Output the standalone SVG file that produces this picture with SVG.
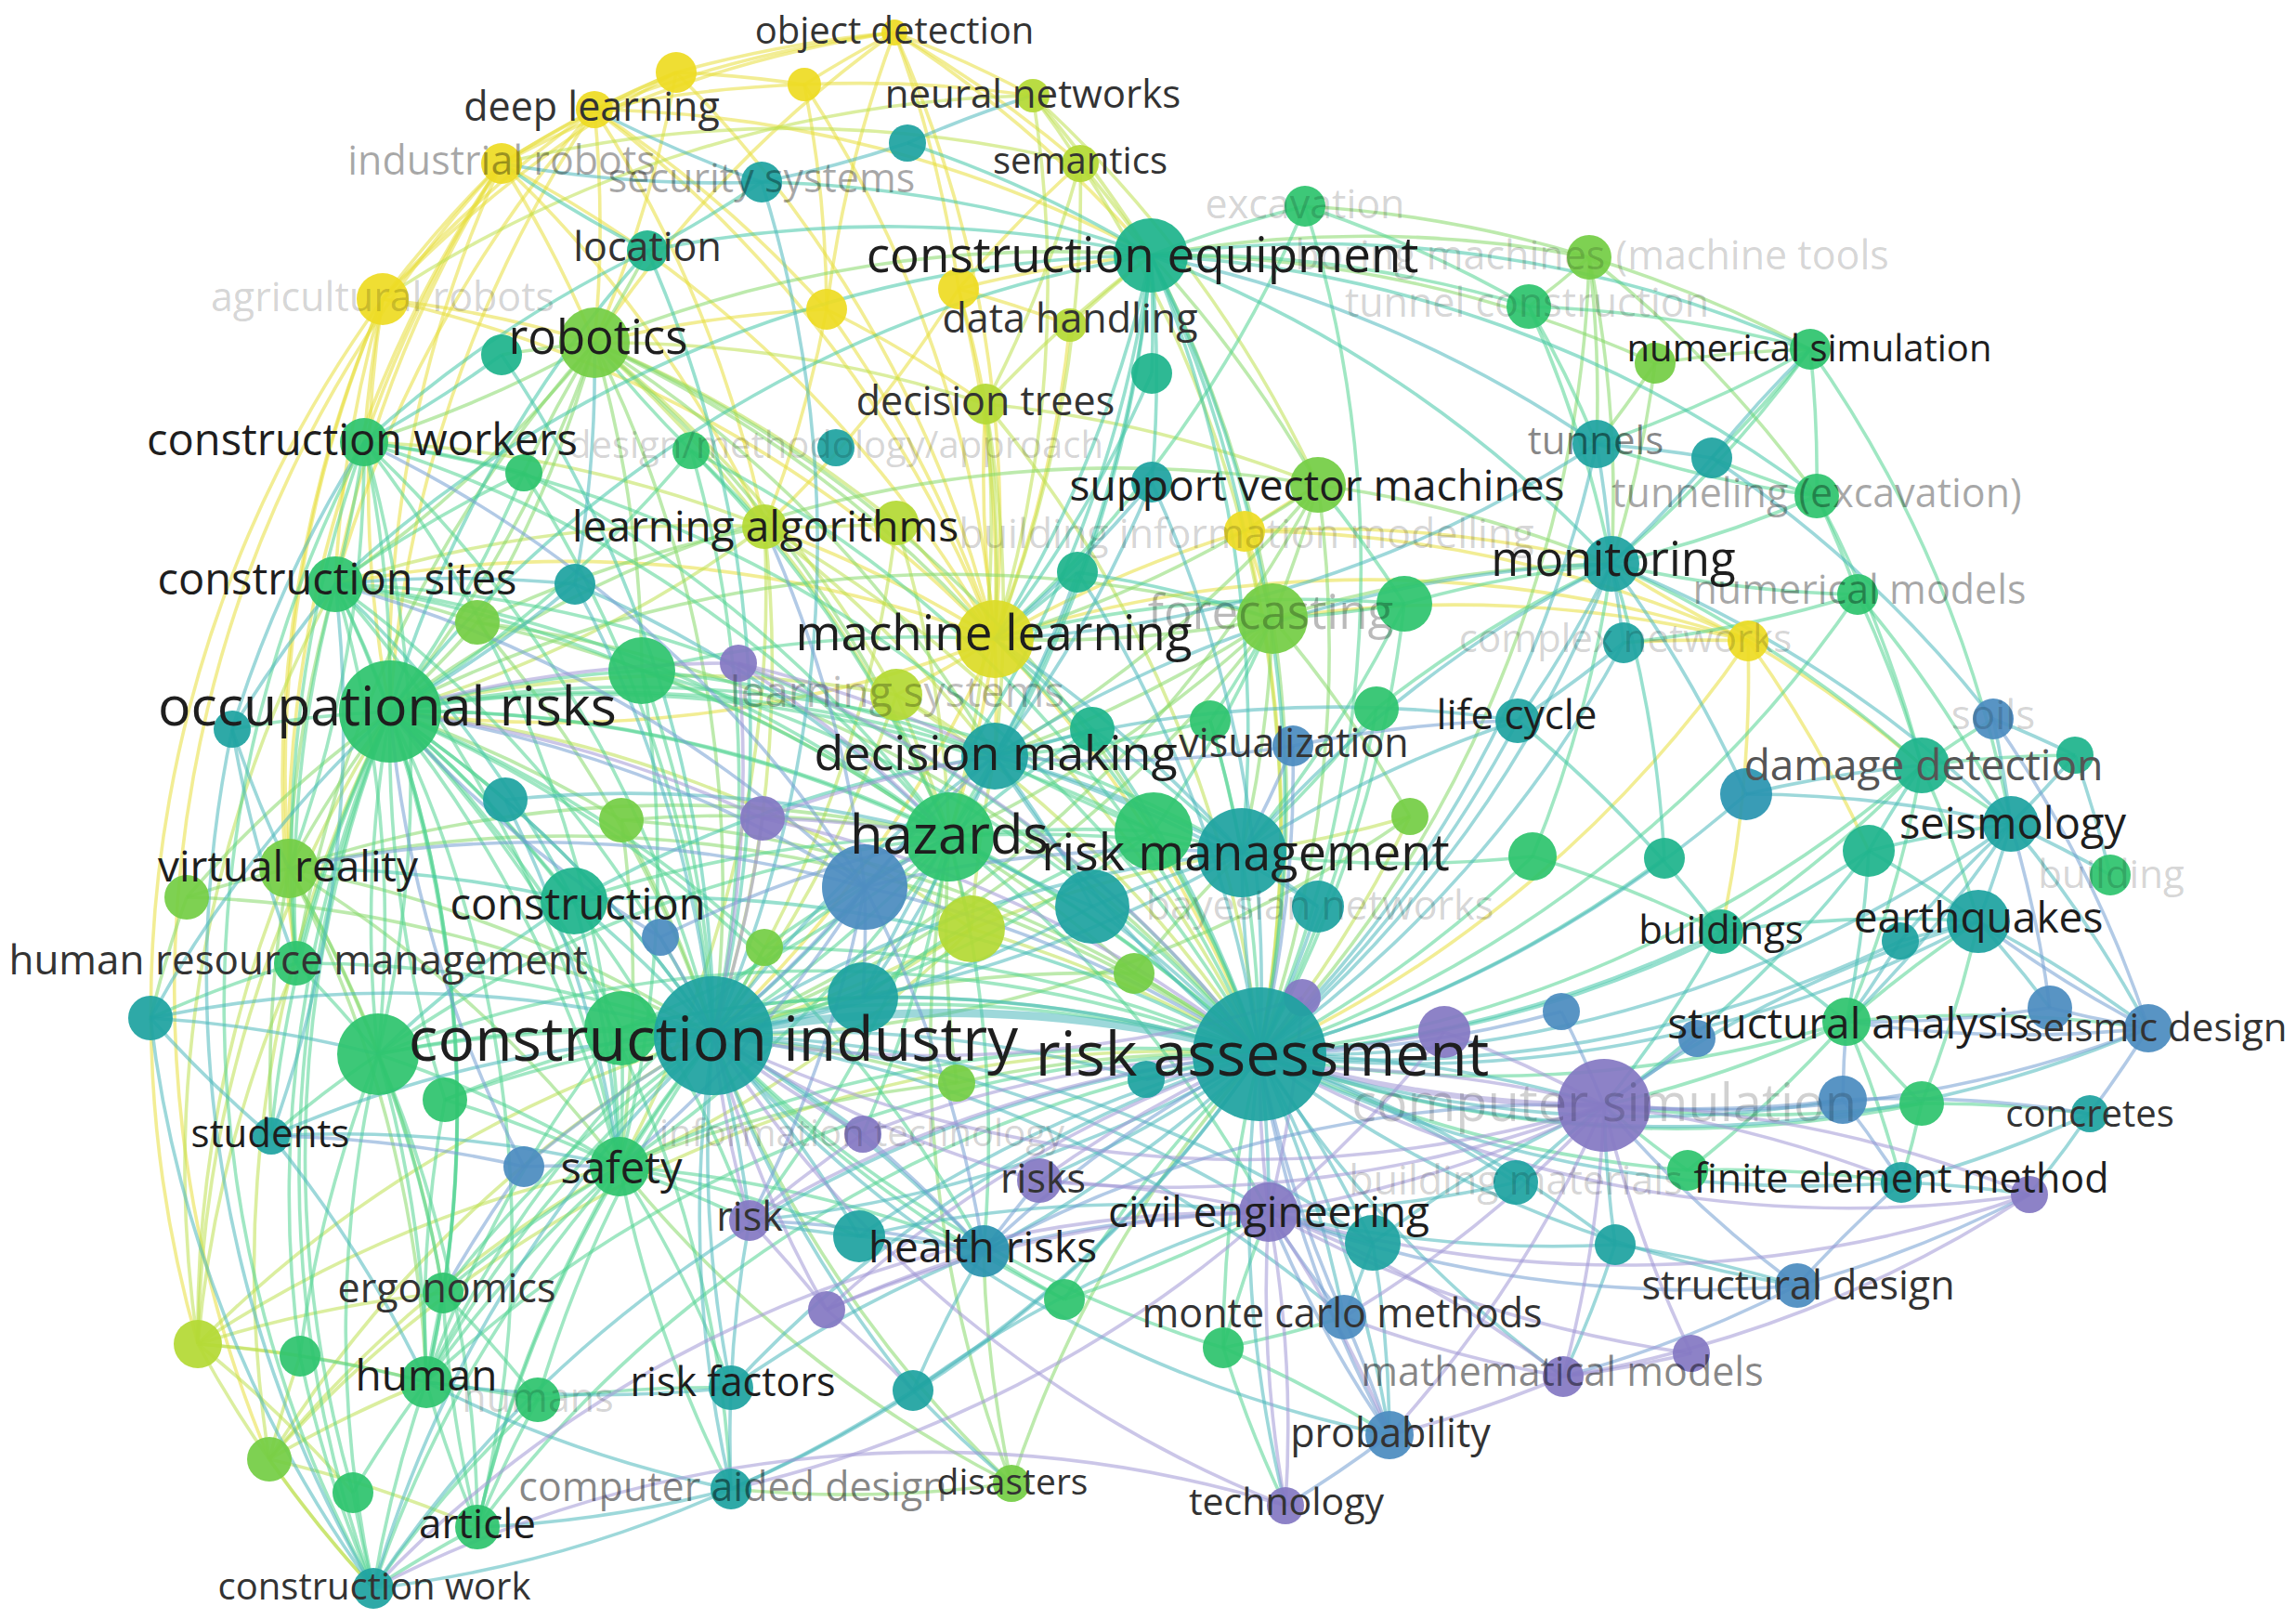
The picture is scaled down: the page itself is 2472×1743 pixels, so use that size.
<svg xmlns="http://www.w3.org/2000/svg" width="2472" height="1743" viewBox="0 0 2472 1743">
<style>
.y{fill:#eedc24}.yg{fill:#b4d935}.lg{fill:#74cd45}.g{fill:#2ec46e}.tg{fill:#1eb48c}.t{fill:#1ea3a0}.b{fill:#4b8cc0}.p{fill:#8479c3}
circle{fill-opacity:.93}
#connectors{fill:none;stroke-width:3.6;stroke-opacity:.55}
.ey{stroke:#e8de3c}.eyg{stroke:#bde050}.elg{stroke:#86d96a}.eg{stroke:#52d392}.etg{stroke:#43c6a8}.et{stroke:#4db8bb}.eb{stroke:#739fd2}.ep{stroke:#a097d6}
text{font-family:"Open Sans","Liberation Sans",sans-serif;text-anchor:middle}
.d1{fill:#1e1e1e}.d2{fill:#333}.d3{fill:#555}.f1{fill:#000;fill-opacity:.47}.f2{fill:#000;fill-opacity:.34}.f3{fill:#000;fill-opacity:.27}.f4{fill:#000;fill-opacity:.18}
</style>
<rect width="2472" height="1743" fill="#fff"/>
<g id="connectors">
<g class="ey">
<path d="M728 78A1300 1300 0 0 1 963 35"/><path d="M866 91A1300 1300 0 0 1 963 35"/><path d="M963 35A1300 1300 0 0 1 1112 103"/><path d="M640 118A1300 1300 0 0 1 963 35"/><path d="M963 35A1300 1300 0 0 1 1071 688"/><path d="M963 35A1300 1300 0 0 1 1163 176"/><path d="M890 333A1300 1300 0 0 1 963 35"/><path d="M540 176A1300 1300 0 0 1 963 35"/><path d="M640 118A1300 1300 0 0 1 728 78"/><path d="M540 176A1300 1300 0 0 1 728 78"/><path d="M728 78A1300 1300 0 0 1 866 91"/><path d="M412 322A1300 1300 0 0 1 728 78"/><path d="M728 78A1300 1300 0 0 1 1071 688"/><path d="M728 78A1300 1300 0 0 1 640 369"/><path d="M866 91A1300 1300 0 0 1 1112 103"/><path d="M866 91A1300 1300 0 0 1 1071 688"/><path d="M866 91A1300 1300 0 0 1 890 333"/><path d="M640 118A1300 1300 0 0 1 866 91"/><path d="M540 176A1300 1300 0 0 1 640 118"/><path d="M412 322A1300 1300 0 0 1 640 118"/><path d="M640 118A1300 1300 0 0 1 1071 688"/><path d="M640 118A1300 1300 0 0 1 640 369"/><path d="M640 118A1300 1300 0 0 1 823 567"/><path d="M640 118A1300 1300 0 0 1 890 333"/><path d="M640 118A1300 1300 0 0 1 1239 275"/><path d="M412 322A1300 1300 0 0 1 540 176"/><path d="M540 176A1300 1300 0 0 1 640 369"/><path d="M392 476A1300 1300 0 0 1 540 176"/><path d="M361 629A1300 1300 0 0 1 540 176"/><path d="M540 176A1300 1300 0 0 1 1071 688"/><path d="M540 176A1300 1300 0 0 1 823 567"/><path d="M392 476A1300 1300 0 0 1 412 322"/><path d="M412 322A1300 1300 0 0 1 640 369"/><path d="M420 766A1300 1300 0 0 1 412 322"/><path d="M361 629A1300 1300 0 0 1 412 322"/><path d="M412 322A1300 1300 0 0 1 1071 688"/><path d="M311 935A1300 1300 0 0 1 412 322"/><path d="M890 333A1300 1300 0 0 1 1071 688"/><path d="M890 333A1300 1300 0 0 1 823 567"/><path d="M1032 311A1300 1300 0 0 1 1071 688"/><path d="M1032 311A1300 1300 0 0 1 1239 275"/><path d="M1032 311A1300 1300 0 0 1 1152 350"/><path d="M1032 311A1300 1300 0 0 1 823 567"/><path d="M963 35A1300 1300 0 0 1 1032 311"/><path d="M823 567A1300 1300 0 0 1 1071 688"/><path d="M1071 688A1300 1300 0 0 1 1061 435"/><path d="M1071 688A1300 1300 0 0 1 1340 572"/><path d="M1071 688A1300 1300 0 0 1 1882 690"/><path d="M965 563A1300 1300 0 0 1 1071 688"/><path d="M1071 688A1300 1300 0 0 1 965 748"/><path d="M1152 350A1300 1300 0 0 1 1071 688"/><path d="M361 629A1300 1300 0 0 1 1071 688"/><path d="M1071 688A1300 1300 0 0 1 1022 901"/><path d="M1071 688A1300 1300 0 0 1 768 1115"/><path d="M1071 688A1300 1300 0 0 1 1356 1135"/><path d="M1340 572A1300 1300 0 0 1 1370 666"/><path d="M1340 572A1300 1300 0 0 1 1882 690"/><path d="M1340 572A1300 1300 0 0 1 1735 607"/><path d="M1882 690A1300 1300 0 0 1 1735 607"/><path d="M1882 690A1300 1300 0 0 1 2069 824"/><path d="M1748 692A1300 1300 0 0 1 1882 690"/><path d="M1370 666A1300 1300 0 0 1 1882 690"/><path d="M1882 690A1300 1300 0 0 1 1853 1003"/><path d="M1071 688A1300 1300 0 0 1 420 766"/><path d="M1071 688A1300 1300 0 0 1 1071 814"/>
<path d="M640 369A1300 1300 0 0 1 890 333"/><path d="M890 333A1300 1300 0 0 1 1061 435"/><path d="M1032 311A1300 1300 0 0 1 1061 435"/><path d="M1032 311A1300 1300 0 0 1 1163 176"/><path d="M361 629A1300 1300 0 0 1 640 118"/><path d="M420 766A1300 1300 0 0 1 640 118"/><path d="M420 766A1300 1300 0 0 1 540 176"/><path d="M311 935A1300 1300 0 0 1 540 176"/><path d="M319 1037A1300 1300 0 0 1 412 322"/><path d="M213 1447A1300 1300 0 0 1 412 322"/><path d="M290 1571A1300 1300 0 0 1 540 176"/><path d="M1882 690A1300 1300 0 0 1 1356 1135"/><path d="M1882 690A1300 1300 0 0 1 2012 916"/><path d="M1340 572A1300 1300 0 0 1 1356 1135"/><path d="M1340 572A1300 1300 0 0 1 1419 522"/><path d="M963 35A1300 1300 0 0 1 1239 275"/><path d="M640 369A1300 1300 0 0 1 963 35"/>
</g>
<g class="eyg">
<path d="M1112 103A1300 1300 0 0 1 1163 176"/><path d="M1112 103A1300 1300 0 0 1 1239 275"/><path d="M1112 103A1300 1300 0 0 1 1071 688"/><path d="M1163 176A1300 1300 0 0 1 1239 275"/><path d="M1163 176A1300 1300 0 0 1 1061 435"/><path d="M1163 176A1300 1300 0 0 1 1071 688"/><path d="M1061 435A1300 1300 0 0 1 1071 688"/><path d="M1061 435A1300 1300 0 0 1 1239 275"/><path d="M1061 435A1300 1300 0 0 1 1022 901"/><path d="M640 369A1300 1300 0 0 1 1061 435"/><path d="M640 369A1300 1300 0 0 1 823 567"/><path d="M823 567A1300 1300 0 0 1 420 766"/><path d="M823 567A1300 1300 0 0 1 1022 901"/><path d="M823 567A1300 1300 0 0 1 768 1115"/><path d="M361 629A1300 1300 0 0 1 823 567"/><path d="M965 563A1300 1300 0 0 1 823 567"/><path d="M965 563A1300 1300 0 0 1 768 1115"/><path d="M965 748A1300 1300 0 0 1 1022 901"/><path d="M420 766A1300 1300 0 0 1 965 748"/><path d="M965 748A1300 1300 0 0 1 768 1115"/><path d="M965 748A1300 1300 0 0 1 1356 1135"/><path d="M1046 1000A1300 1300 0 0 1 1022 901"/><path d="M1046 1000A1300 1300 0 0 1 768 1115"/><path d="M1046 1000A1300 1300 0 0 1 1356 1135"/><path d="M1046 1000A1300 1300 0 0 1 1071 814"/><path d="M420 766A1300 1300 0 0 1 1046 1000"/><path d="M1046 1000A1300 1300 0 0 1 667 1256"/><path d="M213 1447A1300 1300 0 0 1 459 1488"/><path d="M402 1710A1300 1300 0 0 1 213 1447"/><path d="M213 1447A1300 1300 0 0 1 420 766"/><path d="M213 1447A1300 1300 0 0 1 380 1607"/><path d="M213 1447A1300 1300 0 0 1 311 935"/><path d="M213 1447A1300 1300 0 0 1 477 1392"/><path d="M213 1447A1300 1300 0 0 1 319 1037"/><path d="M213 1447A1300 1300 0 0 1 361 629"/><path d="M290 1571A1300 1300 0 0 1 459 1488"/><path d="M402 1710A1300 1300 0 0 1 290 1571"/><path d="M290 1571A1300 1300 0 0 1 323 1460"/><path d="M290 1571A1300 1300 0 0 1 420 766"/><path d="M290 1571A1300 1300 0 0 1 768 1115"/><path d="M290 1571A1300 1300 0 0 1 514 1644"/><path d="M1518 879A1300 1300 0 0 1 1337 918"/><path d="M1518 879A1300 1300 0 0 1 1356 1135"/><path d="M1152 350A1300 1300 0 0 1 1239 275"/><path d="M412 322A1300 1300 0 0 1 1112 103"/><path d="M540 176A1300 1300 0 0 1 1163 176"/>
<path d="M823 567A1300 1300 0 0 1 1356 1135"/><path d="M823 567A1300 1300 0 0 1 1071 814"/><path d="M392 476A1300 1300 0 0 1 823 567"/><path d="M823 567A1300 1300 0 0 1 667 1256"/><path d="M965 748A1300 1300 0 0 1 1071 814"/><path d="M640 369A1300 1300 0 0 1 965 748"/><path d="M965 563A1300 1300 0 0 1 1022 901"/><path d="M640 369A1300 1300 0 0 1 965 563"/><path d="M1046 1000A1300 1300 0 0 1 1337 918"/><path d="M929 1074A1300 1300 0 0 1 1046 1000"/><path d="M1061 435A1300 1300 0 0 1 1356 1135"/><path d="M1061 435A1300 1300 0 0 1 1071 814"/><path d="M1061 435A1300 1300 0 0 1 1419 522"/><path d="M213 1447A1300 1300 0 0 1 768 1115"/><path d="M213 1447A1300 1300 0 0 1 667 1256"/><path d="M290 1571A1300 1300 0 0 1 667 1256"/><path d="M290 1571A1300 1300 0 0 1 1356 1135"/><path d="M213 1447A1300 1300 0 0 1 323 1460"/><path d="M1163 176A1300 1300 0 0 1 1356 1135"/><path d="M1112 103A1300 1300 0 0 1 1419 522"/>
</g>
<g class="elg">
<path d="M640 369A1300 1300 0 0 1 392 476"/><path d="M640 369A1300 1300 0 0 1 361 629"/><path d="M640 369A1300 1300 0 0 1 420 766"/><path d="M640 369A1300 1300 0 0 1 1239 275"/><path d="M640 369A1300 1300 0 0 1 768 1115"/><path d="M640 369A1300 1300 0 0 1 1071 688"/><path d="M697 270A1300 1300 0 0 1 640 369"/><path d="M540 382A1300 1300 0 0 1 640 369"/><path d="M640 369A1300 1300 0 0 1 1022 901"/><path d="M640 369A1300 1300 0 0 1 1071 814"/><path d="M640 369A1300 1300 0 0 1 1356 1135"/><path d="M564 509A1300 1300 0 0 1 640 369"/><path d="M640 369A1300 1300 0 0 1 514 670"/><path d="M311 935A1300 1300 0 0 1 420 766"/><path d="M311 935A1300 1300 0 0 1 768 1115"/><path d="M319 1037A1300 1300 0 0 1 311 935"/><path d="M311 935A1300 1300 0 0 1 361 629"/><path d="M311 935A1300 1300 0 0 1 667 1256"/><path d="M311 935A1300 1300 0 0 1 407 1135"/><path d="M201 966A1300 1300 0 0 1 311 935"/><path d="M311 935A1300 1300 0 0 1 1022 901"/><path d="M292 1223A1300 1300 0 0 1 311 935"/><path d="M514 670A1300 1300 0 0 1 420 766"/><path d="M361 629A1300 1300 0 0 1 514 670"/><path d="M514 670A1300 1300 0 0 1 768 1115"/><path d="M514 670A1300 1300 0 0 1 1022 901"/><path d="M514 670A1300 1300 0 0 1 1356 1135"/><path d="M669 883A1300 1300 0 0 1 768 1115"/><path d="M420 766A1300 1300 0 0 1 669 883"/><path d="M669 883A1300 1300 0 0 1 1022 901"/><path d="M669 883A1300 1300 0 0 1 1356 1135"/><path d="M1370 666A1300 1300 0 0 1 1071 688"/><path d="M1370 666A1300 1300 0 0 1 1337 918"/><path d="M1370 666A1300 1300 0 0 1 1356 1135"/><path d="M1239 275A1300 1300 0 0 1 1370 666"/><path d="M1370 666A1300 1300 0 0 1 1071 814"/><path d="M1370 666A1300 1300 0 0 1 1735 607"/><path d="M1419 522A1300 1300 0 0 1 1370 666"/><path d="M1370 666A1300 1300 0 0 1 1022 901"/><path d="M1370 666A1300 1300 0 0 1 768 1115"/><path d="M1239 275A1300 1300 0 0 1 1419 522"/><path d="M1419 522A1300 1300 0 0 1 1071 688"/><path d="M1419 522A1300 1300 0 0 1 1356 1135"/><path d="M1419 522A1300 1300 0 0 1 1071 814"/><path d="M1419 522A1300 1300 0 0 1 1735 607"/><path d="M1419 522A1300 1300 0 0 1 768 1115"/><path d="M1239 275A1300 1300 0 0 1 1711 277"/><path d="M1711 277A1300 1300 0 0 1 1646 330"/><path d="M1711 277A1300 1300 0 0 1 1719 478"/><path d="M1405 222A1300 1300 0 0 1 1711 277"/><path d="M1711 277A1300 1300 0 0 1 1949 376"/><path d="M1711 277A1300 1300 0 0 1 1956 534"/><path d="M1782 391A1300 1300 0 0 1 1949 376"/><path d="M1782 391A1300 1300 0 0 1 1719 478"/><path d="M1239 275A1300 1300 0 0 1 1782 391"/><path d="M1782 391A1300 1300 0 0 1 1735 607"/><path d="M1221 1048A1300 1300 0 0 1 1356 1135"/><path d="M768 1115A1300 1300 0 0 1 1221 1048"/><path d="M768 1115A1300 1300 0 0 1 1030 1166"/><path d="M1030 1166A1300 1300 0 0 1 1356 1135"/><path d="M1089 1597A1300 1300 0 0 1 768 1115"/><path d="M1089 1597A1300 1300 0 0 1 1356 1135"/><path d="M1089 1597A1300 1300 0 0 1 1059 1347"/><path d="M1089 1597A1300 1300 0 0 1 787 1603"/><path d="M201 966A1300 1300 0 0 1 420 766"/><path d="M201 966A1300 1300 0 0 1 768 1115"/><path d="M162 1096A1300 1300 0 0 1 201 966"/>
<path d="M319 1037A1300 1300 0 0 1 640 369"/><path d="M640 369A1300 1300 0 0 1 691 722"/><path d="M311 935A1300 1300 0 0 1 459 1488"/><path d="M311 935A1300 1300 0 0 1 477 1392"/><path d="M311 935A1300 1300 0 0 1 1356 1135"/><path d="M420 766A1300 1300 0 0 1 1370 666"/><path d="M669 883A1300 1300 0 0 1 667 1256"/><path d="M514 670A1300 1300 0 0 1 823 567"/><path d="M1022 901A1300 1300 0 0 1 1221 1048"/><path d="M1221 1048A1300 1300 0 0 1 1337 918"/><path d="M1030 1166A1300 1300 0 0 1 1022 901"/><path d="M667 1256A1300 1300 0 0 1 1030 1166"/><path d="M1089 1597A1300 1300 0 0 1 667 1256"/><path d="M1089 1597A1300 1300 0 0 1 1022 901"/><path d="M420 766A1300 1300 0 0 1 1419 522"/><path d="M1370 666A1300 1300 0 0 1 1518 879"/><path d="M1518 879A1300 1300 0 0 1 768 1115"/><path d="M1711 277A1300 1300 0 0 1 1735 607"/><path d="M1711 277A1300 1300 0 0 1 1356 1135"/>
</g>
<g class="eg">
<path d="M420 766A1300 1300 0 0 1 768 1115"/><path d="M420 766A1300 1300 0 0 1 1356 1135"/><path d="M420 766A1300 1300 0 0 1 1022 901"/><path d="M361 629A1300 1300 0 0 1 420 766"/><path d="M392 476A1300 1300 0 0 1 420 766"/><path d="M319 1037A1300 1300 0 0 1 420 766"/><path d="M420 766A1300 1300 0 0 1 667 1256"/><path d="M420 766A1300 1300 0 0 1 618 970"/><path d="M407 1135A1300 1300 0 0 1 420 766"/><path d="M420 766A1300 1300 0 0 1 1071 814"/><path d="M420 766A1300 1300 0 0 1 1337 918"/><path d="M420 766A1300 1300 0 0 1 691 722"/><path d="M420 766A1300 1300 0 0 1 477 1392"/><path d="M420 766A1300 1300 0 0 1 459 1488"/><path d="M292 1223A1300 1300 0 0 1 420 766"/><path d="M250 785A1300 1300 0 0 1 420 766"/><path d="M420 766A1300 1300 0 0 1 669 1107"/><path d="M420 766A1300 1300 0 0 1 544 861"/><path d="M420 766A1300 1300 0 0 1 807 1314"/><path d="M420 766A1300 1300 0 0 1 1059 1347"/><path d="M420 766A1300 1300 0 0 1 787 1603"/><path d="M420 766A1300 1300 0 0 1 514 1644"/><path d="M361 629A1300 1300 0 0 1 768 1115"/><path d="M392 476A1300 1300 0 0 1 361 629"/><path d="M361 629A1300 1300 0 0 1 1022 901"/><path d="M361 629A1300 1300 0 0 1 1356 1135"/><path d="M361 629A1300 1300 0 0 1 407 1135"/><path d="M361 629A1300 1300 0 0 1 667 1256"/><path d="M361 629A1300 1300 0 0 1 459 1488"/><path d="M392 476A1300 1300 0 0 1 768 1115"/><path d="M392 476A1300 1300 0 0 1 1022 901"/><path d="M392 476A1300 1300 0 0 1 667 1256"/><path d="M392 476A1300 1300 0 0 1 407 1135"/><path d="M392 476A1300 1300 0 0 1 1356 1135"/><path d="M402 1710A1300 1300 0 0 1 392 476"/><path d="M1022 901A1300 1300 0 0 1 768 1115"/><path d="M1022 901A1300 1300 0 0 1 1356 1135"/><path d="M1022 901A1300 1300 0 0 1 1337 918"/><path d="M1022 901A1300 1300 0 0 1 1071 814"/><path d="M1022 901A1300 1300 0 0 1 667 1256"/><path d="M691 722A1300 1300 0 0 1 1022 901"/><path d="M1022 901A1300 1300 0 0 1 669 1107"/><path d="M1022 901A1300 1300 0 0 1 1242 895"/><path d="M618 970A1300 1300 0 0 1 1022 901"/><path d="M1022 901A1300 1300 0 0 1 807 1314"/><path d="M1022 901A1300 1300 0 0 1 1059 1347"/><path d="M1022 901A1300 1300 0 0 1 1366 1305"/><path d="M1022 901A1300 1300 0 0 1 929 1221"/><path d="M1242 895A1300 1300 0 0 1 1356 1135"/><path d="M1242 895A1300 1300 0 0 1 768 1115"/><path d="M1242 895A1300 1300 0 0 1 1071 814"/><path d="M1071 688A1300 1300 0 0 1 1242 895"/><path d="M1242 895A1300 1300 0 0 1 1337 918"/><path d="M1370 666A1300 1300 0 0 1 1242 895"/><path d="M407 1135A1300 1300 0 0 1 768 1115"/><path d="M407 1135A1300 1300 0 0 1 459 1488"/><path d="M407 1135A1300 1300 0 0 1 667 1256"/><path d="M407 1135A1300 1300 0 0 1 1356 1135"/><path d="M407 1135A1300 1300 0 0 1 477 1392"/><path d="M407 1135A1300 1300 0 0 1 514 1644"/><path d="M292 1223A1300 1300 0 0 1 407 1135"/><path d="M402 1710A1300 1300 0 0 1 407 1135"/><path d="M319 1037A1300 1300 0 0 1 407 1135"/><path d="M669 1107A1300 1300 0 0 1 768 1115"/><path d="M669 1107A1300 1300 0 0 1 1356 1135"/><path d="M669 1107A1300 1300 0 0 1 667 1256"/><path d="M667 1256A1300 1300 0 0 1 768 1115"/><path d="M667 1256A1300 1300 0 0 1 1356 1135"/><path d="M459 1488A1300 1300 0 0 1 667 1256"/><path d="M477 1392A1300 1300 0 0 1 667 1256"/><path d="M667 1256A1300 1300 0 0 1 787 1494"/><path d="M667 1256A1300 1300 0 0 1 1059 1347"/><path d="M459 1488A1300 1300 0 0 1 768 1115"/><path d="M459 1488A1300 1300 0 0 1 477 1392"/><path d="M514 1644A1300 1300 0 0 1 459 1488"/><path d="M402 1710A1300 1300 0 0 1 459 1488"/><path d="M459 1488A1300 1300 0 0 1 579 1507"/><path d="M459 1488A1300 1300 0 0 1 1356 1135"/><path d="M579 1507A1300 1300 0 0 1 768 1115"/><path d="M514 1644A1300 1300 0 0 1 579 1507"/><path d="M579 1507A1300 1300 0 0 1 787 1494"/><path d="M477 1392A1300 1300 0 0 1 768 1115"/><path d="M514 1644A1300 1300 0 0 1 477 1392"/><path d="M402 1710A1300 1300 0 0 1 514 1644"/><path d="M514 1644A1300 1300 0 0 1 768 1115"/><path d="M514 1644A1300 1300 0 0 1 1356 1135"/><path d="M402 1710A1300 1300 0 0 1 380 1607"/><path d="M380 1607A1300 1300 0 0 1 459 1488"/><path d="M323 1460A1300 1300 0 0 1 459 1488"/><path d="M402 1710A1300 1300 0 0 1 323 1460"/><path d="M319 1037A1300 1300 0 0 1 768 1115"/><path d="M162 1096A1300 1300 0 0 1 319 1037"/><path d="M691 722A1300 1300 0 0 1 768 1115"/><path d="M691 722A1300 1300 0 0 1 1356 1135"/><path d="M691 722A1300 1300 0 0 1 1071 814"/><path d="M1512 650A1300 1300 0 0 1 1370 666"/><path d="M1512 650A1300 1300 0 0 1 1337 918"/><path d="M1512 650A1300 1300 0 0 1 1735 607"/><path d="M1512 650A1300 1300 0 0 1 1356 1135"/><path d="M1482 763A1300 1300 0 0 1 1337 918"/><path d="M1482 763A1300 1300 0 0 1 1356 1135"/><path d="M1303 776A1300 1300 0 0 1 1337 918"/><path d="M1303 776A1300 1300 0 0 1 1356 1135"/><path d="M1239 275A1300 1300 0 0 1 1405 222"/><path d="M1405 222A1300 1300 0 0 1 1646 330"/><path d="M1239 275A1300 1300 0 0 1 1646 330"/><path d="M1646 330A1300 1300 0 0 1 1719 478"/><path d="M1646 330A1300 1300 0 0 1 1949 376"/><path d="M1949 376A1300 1300 0 0 1 1956 534"/><path d="M1949 376A1300 1300 0 0 1 1719 478"/><path d="M1949 376A1300 1300 0 0 1 1843 493"/><path d="M1956 534A1300 1300 0 0 1 1719 478"/><path d="M1956 534A1300 1300 0 0 1 1843 493"/><path d="M1956 534A1300 1300 0 0 1 1735 607"/><path d="M1949 376A1300 1300 0 0 1 2165 887"/><path d="M2000 640A1300 1300 0 0 1 1735 607"/><path d="M2000 640A1300 1300 0 0 1 2069 824"/><path d="M1956 534A1300 1300 0 0 1 2000 640"/><path d="M2000 640A1300 1300 0 0 1 1748 692"/><path d="M2069 824A1300 1300 0 0 1 2165 887"/><path d="M2069 824A1300 1300 0 0 1 2130 992"/><path d="M2069 824A1300 1300 0 0 1 2146 774"/><path d="M2069 824A1300 1300 0 0 1 2234 813"/><path d="M1735 607A1300 1300 0 0 1 2069 824"/><path d="M2069 824A1300 1300 0 0 1 1988 1100"/><path d="M2069 824A1300 1300 0 0 1 1853 1003"/><path d="M1650 922A1300 1300 0 0 1 1356 1135"/><path d="M1650 922A1300 1300 0 0 1 1337 918"/><path d="M1650 922A1300 1300 0 0 1 1853 1003"/><path d="M1988 1100A1300 1300 0 0 1 2130 992"/><path d="M1988 1100A1300 1300 0 0 1 1356 1135"/><path d="M1988 1100A1300 1300 0 0 1 1727 1190"/><path d="M1988 1100A1300 1300 0 0 1 2047 1273"/><path d="M1988 1100A1300 1300 0 0 1 2313 1107"/><path d="M2069 1188A1300 1300 0 0 1 2047 1273"/><path d="M2069 1188A1300 1300 0 0 1 1988 1100"/><path d="M2069 1188A1300 1300 0 0 1 1727 1190"/><path d="M2069 1188A1300 1300 0 0 1 2250 1199"/><path d="M1817 1260A1300 1300 0 0 1 1727 1190"/><path d="M1817 1260A1300 1300 0 0 1 1356 1135"/><path d="M1817 1260A1300 1300 0 0 1 2047 1273"/><path d="M1146 1399A1300 1300 0 0 1 1356 1135"/><path d="M1146 1399A1300 1300 0 0 1 1059 1347"/><path d="M1317 1451A1300 1300 0 0 1 1366 1305"/><path d="M1384 1621A1300 1300 0 0 1 1317 1451"/><path d="M1317 1451A1300 1300 0 0 1 1356 1135"/><path d="M1317 1451A1300 1300 0 0 1 1496 1545"/><path d="M564 509A1300 1300 0 0 1 420 766"/><path d="M392 476A1300 1300 0 0 1 564 509"/><path d="M744 485A1300 1300 0 0 1 640 369"/><path d="M744 485A1300 1300 0 0 1 823 567"/><path d="M744 485A1300 1300 0 0 1 768 1115"/><path d="M823 1020A1300 1300 0 0 1 768 1115"/><path d="M823 1020A1300 1300 0 0 1 1022 901"/>
<path d="M392 476A1300 1300 0 0 1 311 935"/><path d="M319 1037A1300 1300 0 0 1 361 629"/><path d="M319 1037A1300 1300 0 0 1 392 476"/><path d="M407 1135A1300 1300 0 0 1 669 1107"/><path d="M479 1184A1300 1300 0 0 1 768 1115"/><path d="M479 1184A1300 1300 0 0 1 420 766"/><path d="M479 1184A1300 1300 0 0 1 667 1256"/><path d="M459 1488A1300 1300 0 0 1 479 1184"/><path d="M479 1184A1300 1300 0 0 1 1356 1135"/><path d="M477 1392A1300 1300 0 0 1 579 1507"/><path d="M514 1644A1300 1300 0 0 1 667 1256"/><path d="M380 1607A1300 1300 0 0 1 420 766"/><path d="M323 1460A1300 1300 0 0 1 420 766"/><path d="M323 1460A1300 1300 0 0 1 407 1135"/><path d="M402 1710A1300 1300 0 0 1 420 766"/><path d="M402 1710A1300 1300 0 0 1 667 1256"/><path d="M402 1710A1300 1300 0 0 1 579 1507"/><path d="M407 1135A1300 1300 0 0 1 1022 901"/><path d="M459 1488A1300 1300 0 0 1 1022 901"/><path d="M420 766A1300 1300 0 0 1 1242 895"/><path d="M929 1074A1300 1300 0 0 1 1242 895"/><path d="M459 1488A1300 1300 0 0 1 669 1107"/><path d="M669 1107A1300 1300 0 0 1 929 1074"/><path d="M361 629A1300 1300 0 0 1 691 722"/><path d="M691 722A1300 1300 0 0 1 1071 688"/><path d="M691 722A1300 1300 0 0 1 667 1256"/><path d="M744 485A1300 1300 0 0 1 420 766"/><path d="M744 485A1300 1300 0 0 1 1022 901"/><path d="M744 485A1300 1300 0 0 1 1356 1135"/><path d="M564 509A1300 1300 0 0 1 768 1115"/><path d="M361 629A1300 1300 0 0 1 564 509"/><path d="M564 509A1300 1300 0 0 1 1022 901"/><path d="M420 766A1300 1300 0 0 1 823 1020"/><path d="M823 1020A1300 1300 0 0 1 1356 1135"/><path d="M667 1256A1300 1300 0 0 1 807 1314"/><path d="M787 1603A1300 1300 0 0 1 667 1256"/><path d="M667 1256A1300 1300 0 0 1 925 1331"/><path d="M1735 607A1300 1300 0 0 1 1650 922"/><path d="M1482 763A1300 1300 0 0 1 1735 607"/><path d="M1303 776A1300 1300 0 0 1 1071 814"/><path d="M1370 666A1300 1300 0 0 1 1303 776"/><path d="M1071 688A1300 1300 0 0 1 1512 650"/><path d="M1419 522A1300 1300 0 0 1 1512 650"/><path d="M2069 824A1300 1300 0 0 1 1356 1135"/><path d="M2130 992A1300 1300 0 0 1 2069 1188"/><path d="M2069 1188A1300 1300 0 0 1 1356 1135"/><path d="M1988 1100A1300 1300 0 0 1 1817 1260"/><path d="M1146 1399A1300 1300 0 0 1 768 1115"/><path d="M1366 1305A1300 1300 0 0 1 1146 1399"/><path d="M1317 1451A1300 1300 0 0 1 768 1115"/><path d="M1447 1418A1300 1300 0 0 1 1317 1451"/><path d="M1646 330A1300 1300 0 0 1 1735 607"/><path d="M1405 222A1300 1300 0 0 1 1071 688"/><path d="M1405 222A1300 1300 0 0 1 1356 1135"/><path d="M1949 376A1300 1300 0 0 1 1735 607"/><path d="M1956 534A1300 1300 0 0 1 2069 824"/><path d="M2000 640A1300 1300 0 0 1 2165 887"/><path d="M2000 640A1300 1300 0 0 1 1356 1135"/>
</g>
<g class="etg">
<path d="M1239 275A1300 1300 0 0 1 1356 1135"/><path d="M1239 275A1300 1300 0 0 1 1071 688"/><path d="M1239 275A1300 1300 0 0 1 1071 814"/><path d="M1239 275A1300 1300 0 0 1 1337 918"/><path d="M697 270A1300 1300 0 0 1 1239 275"/><path d="M1239 275A1300 1300 0 0 1 1735 607"/><path d="M1239 275A1300 1300 0 0 1 768 1115"/><path d="M1239 275A1300 1300 0 0 1 1022 901"/><path d="M1239 275A1300 1300 0 0 1 1240 519"/><path d="M1239 275A1300 1300 0 0 1 1240 402"/><path d="M820 196A1300 1300 0 0 1 1239 275"/><path d="M977 154A1300 1300 0 0 1 1239 275"/><path d="M697 270A1300 1300 0 0 1 540 176"/><path d="M697 270A1300 1300 0 0 1 768 1115"/><path d="M820 196A1300 1300 0 0 1 697 270"/><path d="M618 970A1300 1300 0 0 1 768 1115"/><path d="M618 970A1300 1300 0 0 1 1356 1135"/><path d="M618 970A1300 1300 0 0 1 667 1256"/><path d="M1176 785A1300 1300 0 0 1 1071 814"/><path d="M1176 785A1300 1300 0 0 1 1356 1135"/><path d="M1176 785A1300 1300 0 0 1 1337 918"/><path d="M1853 1003A1300 1300 0 0 1 1356 1135"/><path d="M1853 1003A1300 1300 0 0 1 2130 992"/><path d="M1853 1003A1300 1300 0 0 1 1988 1100"/><path d="M1853 1003A1300 1300 0 0 1 1727 1190"/><path d="M2012 916A1300 1300 0 0 1 2130 992"/><path d="M2012 916A1300 1300 0 0 1 2165 887"/><path d="M2012 916A1300 1300 0 0 1 1356 1135"/><path d="M2012 916A1300 1300 0 0 1 2069 824"/><path d="M2012 916A1300 1300 0 0 1 1988 1100"/><path d="M540 382A1300 1300 0 0 1 392 476"/><path d="M540 382A1300 1300 0 0 1 768 1115"/><path d="M1792 924A1300 1300 0 0 1 1356 1135"/><path d="M1735 607A1300 1300 0 0 1 1792 924"/><path d="M1240 402A1300 1300 0 0 1 1071 688"/><path d="M1160 616A1300 1300 0 0 1 1071 688"/><path d="M1160 616A1300 1300 0 0 1 1370 666"/>
<path d="M420 766A1300 1300 0 0 1 1239 275"/><path d="M361 629A1300 1300 0 0 1 1239 275"/><path d="M1239 275A1300 1300 0 0 1 1340 572"/><path d="M1239 275A1300 1300 0 0 1 1949 376"/><path d="M1239 275A1300 1300 0 0 1 1956 534"/><path d="M361 629A1300 1300 0 0 1 618 970"/><path d="M618 970A1300 1300 0 0 1 1071 814"/><path d="M407 1135A1300 1300 0 0 1 618 970"/><path d="M311 935A1300 1300 0 0 1 618 970"/><path d="M420 766A1300 1300 0 0 1 697 270"/><path d="M392 476A1300 1300 0 0 1 697 270"/><path d="M2012 916A1300 1300 0 0 1 1727 1190"/><path d="M1634 776A1300 1300 0 0 1 1853 1003"/><path d="M1022 901A1300 1300 0 0 1 1176 785"/><path d="M1071 688A1300 1300 0 0 1 1176 785"/>
</g>
<g class="et">
<path d="M768 1115A1300 1300 0 0 1 1356 1135" stroke-width="9"/><path d="M768 1115A1300 1300 0 0 1 1071 814"/><path d="M768 1115A1300 1300 0 0 1 1337 918"/><path d="M929 1074A1300 1300 0 0 1 768 1115"/><path d="M768 1115A1300 1300 0 0 1 807 1314"/><path d="M768 1115A1300 1300 0 0 1 1059 1347"/><path d="M768 1115A1300 1300 0 0 1 925 1331"/><path d="M768 1115A1300 1300 0 0 1 929 1221"/><path d="M787 1603A1300 1300 0 0 1 768 1115"/><path d="M787 1494A1300 1300 0 0 1 768 1115"/><path d="M292 1223A1300 1300 0 0 1 768 1115"/><path d="M402 1710A1300 1300 0 0 1 768 1115"/><path d="M162 1096A1300 1300 0 0 1 768 1115"/><path d="M1356 1135A1300 1300 0 0 1 1071 814"/><path d="M1356 1135A1300 1300 0 0 1 1337 918"/><path d="M929 1074A1300 1300 0 0 1 1356 1135"/><path d="M1356 1135A1300 1300 0 0 1 1059 1347"/><path d="M1356 1135A1300 1300 0 0 1 1366 1305"/><path d="M1356 1135A1300 1300 0 0 1 1478 1338"/><path d="M1735 607A1300 1300 0 0 1 1356 1135"/><path d="M1356 1135A1300 1300 0 0 1 1727 1190"/><path d="M2130 992A1300 1300 0 0 1 1356 1135"/><path d="M2165 887A1300 1300 0 0 1 1356 1135"/><path d="M1419 976A1300 1300 0 0 1 1356 1135"/><path d="M1176 976A1300 1300 0 0 1 1356 1135"/><path d="M1634 776A1300 1300 0 0 1 1356 1135"/><path d="M1356 1135A1300 1300 0 0 1 1119 1271"/><path d="M1356 1135A1300 1300 0 0 1 1447 1418"/><path d="M1356 1135A1300 1300 0 0 1 1496 1545"/><path d="M2313 1107A1300 1300 0 0 1 1356 1135"/><path d="M1748 692A1300 1300 0 0 1 1356 1135"/><path d="M1356 1135A1300 1300 0 0 1 1739 1340"/><path d="M1356 1135A1300 1300 0 0 1 1632 1273"/><path d="M1356 1135A1300 1300 0 0 1 807 1314"/><path d="M1356 1135A1300 1300 0 0 1 983 1497"/><path d="M1356 1135A1300 1300 0 0 1 787 1603"/><path d="M2047 1273A1300 1300 0 0 1 1356 1135"/><path d="M1071 814A1300 1300 0 0 1 1337 918"/><path d="M1071 814A1300 1300 0 0 1 929 1074"/><path d="M1071 814A1300 1300 0 0 1 1634 776"/><path d="M1071 814A1300 1300 0 0 1 1419 976"/><path d="M1337 918A1300 1300 0 0 1 929 1074"/><path d="M1337 918A1300 1300 0 0 1 1419 976"/><path d="M1337 918A1300 1300 0 0 1 1634 776"/><path d="M1337 918A1300 1300 0 0 1 1735 607"/><path d="M929 1074A1300 1300 0 0 1 1022 901"/><path d="M1176 976A1300 1300 0 0 1 1022 901"/><path d="M1176 976A1300 1300 0 0 1 768 1115"/><path d="M1735 607A1300 1300 0 0 1 1748 692"/><path d="M1735 607A1300 1300 0 0 1 1634 776"/><path d="M1719 478A1300 1300 0 0 1 1735 607"/><path d="M1843 493A1300 1300 0 0 1 1735 607"/><path d="M1735 607A1300 1300 0 0 1 2165 887"/><path d="M1719 478A1300 1300 0 0 1 1843 493"/><path d="M1239 275A1300 1300 0 0 1 1719 478"/><path d="M2165 887A1300 1300 0 0 1 2130 992"/><path d="M2130 992A1300 1300 0 0 1 2313 1107"/><path d="M1727 1190A1300 1300 0 0 1 2130 992"/><path d="M2046 1013A1300 1300 0 0 1 2130 992"/><path d="M2130 992A1300 1300 0 0 1 2207 1085"/><path d="M2234 813A1300 1300 0 0 1 2165 887"/><path d="M2146 774A1300 1300 0 0 1 2165 887"/><path d="M2165 887A1300 1300 0 0 1 2272 942"/><path d="M2234 813A1300 1300 0 0 1 2272 942"/><path d="M2146 774A1300 1300 0 0 1 2234 813"/><path d="M925 1331A1300 1300 0 0 1 807 1314"/><path d="M925 1331A1300 1300 0 0 1 1059 1347"/><path d="M925 1331A1300 1300 0 0 1 1366 1305"/><path d="M1478 1338A1300 1300 0 0 1 1366 1305"/><path d="M1478 1338A1300 1300 0 0 1 1727 1190"/><path d="M1478 1338A1300 1300 0 0 1 1447 1418"/><path d="M787 1603A1300 1300 0 0 1 787 1494"/><path d="M787 1603A1300 1300 0 0 1 402 1710"/><path d="M983 1497A1300 1300 0 0 1 787 1603"/><path d="M787 1603A1300 1300 0 0 1 459 1488"/><path d="M787 1494A1300 1300 0 0 1 459 1488"/><path d="M787 1494A1300 1300 0 0 1 807 1314"/><path d="M983 1497A1300 1300 0 0 1 1059 1347"/><path d="M1089 1597A1300 1300 0 0 1 983 1497"/><path d="M292 1223A1300 1300 0 0 1 162 1096"/><path d="M162 1096A1300 1300 0 0 1 407 1135"/><path d="M402 1710A1300 1300 0 0 1 162 1096"/><path d="M162 1096A1300 1300 0 0 1 420 766"/><path d="M402 1710A1300 1300 0 0 1 250 785"/><path d="M250 785A1300 1300 0 0 1 361 629"/><path d="M311 935A1300 1300 0 0 1 250 785"/><path d="M544 861A1300 1300 0 0 1 768 1115"/><path d="M544 861A1300 1300 0 0 1 1022 901"/><path d="M361 629A1300 1300 0 0 1 619 629"/><path d="M619 629A1300 1300 0 0 1 768 1115"/><path d="M640 369A1300 1300 0 0 1 619 629"/><path d="M1632 1273A1300 1300 0 0 1 1727 1190"/><path d="M1632 1273A1300 1300 0 0 1 1366 1305"/><path d="M1739 1340A1300 1300 0 0 1 1683 1482"/><path d="M1739 1340A1300 1300 0 0 1 1727 1190"/><path d="M1739 1340A1300 1300 0 0 1 1935 1384"/><path d="M2047 1273A1300 1300 0 0 1 2185 1286"/><path d="M2250 1199A1300 1300 0 0 1 2047 1273"/><path d="M2250 1199A1300 1300 0 0 1 2185 1286"/><path d="M977 154A1300 1300 0 0 1 1112 103"/><path d="M977 154A1300 1300 0 0 1 820 196"/><path d="M820 196A1300 1300 0 0 1 540 176"/><path d="M820 196A1300 1300 0 0 1 640 118"/><path d="M820 196A1300 1300 0 0 1 768 1115"/><path d="M1240 519A1300 1300 0 0 1 1071 688"/><path d="M1843 493A1300 1300 0 0 1 1949 376"/><path d="M1843 493A1300 1300 0 0 1 2146 774"/><path d="M1880 855A1300 1300 0 0 1 2069 824"/><path d="M1735 607A1300 1300 0 0 1 1880 855"/><path d="M1880 855A1300 1300 0 0 1 2165 887"/><path d="M2046 1013A1300 1300 0 0 1 1988 1100"/><path d="M1356 1135A1300 1300 0 0 0 402 1710"/>
<path d="M768 1115A1300 1300 0 0 1 1366 1305"/><path d="M768 1115A1300 1300 0 0 1 1447 1418"/><path d="M1496 1545A1300 1300 0 0 1 768 1115"/><path d="M768 1115A1300 1300 0 0 1 1478 1338"/><path d="M983 1497A1300 1300 0 0 1 768 1115"/><path d="M1880 855A1300 1300 0 0 1 1356 1135"/><path d="M2046 1013A1300 1300 0 0 1 1356 1135"/><path d="M1984 1184A1300 1300 0 0 1 1356 1135"/><path d="M1935 1384A1300 1300 0 0 1 1356 1135"/><path d="M1683 1482A1300 1300 0 0 1 1356 1135"/><path d="M1384 1621A1300 1300 0 0 1 1356 1135"/><path d="M1234 1162A1300 1300 0 0 1 1356 1135"/><path d="M768 1115A1300 1300 0 0 1 1234 1162"/><path d="M1071 814A1300 1300 0 0 1 1735 607"/><path d="M1071 814A1300 1300 0 0 1 1176 976"/><path d="M1071 688A1300 1300 0 0 1 1337 918"/><path d="M1176 976A1300 1300 0 0 1 1337 918"/><path d="M1748 692A1300 1300 0 0 1 1634 776"/><path d="M1160 616A1300 1300 0 0 1 1071 814"/><path d="M1160 616A1300 1300 0 0 1 1356 1135"/><path d="M1240 519A1300 1300 0 0 1 1356 1135"/><path d="M1240 519A1300 1300 0 0 1 1071 814"/><path d="M544 861A1300 1300 0 0 1 667 1256"/><path d="M619 629A1300 1300 0 0 1 420 766"/><path d="M619 629A1300 1300 0 0 1 1022 901"/><path d="M250 785A1300 1300 0 0 1 392 476"/><path d="M319 1037A1300 1300 0 0 1 250 785"/><path d="M925 1331A1300 1300 0 0 1 1356 1135"/><path d="M787 1494A1300 1300 0 0 1 1356 1135"/><path d="M787 1494A1300 1300 0 0 1 1059 1347"/><path d="M787 1603A1300 1300 0 0 1 514 1644"/><path d="M983 1497A1300 1300 0 0 1 1366 1305"/><path d="M2165 887A1300 1300 0 0 1 2313 1107"/><path d="M2165 887A1300 1300 0 0 1 1988 1100"/><path d="M2046 1013A1300 1300 0 0 1 2165 887"/><path d="M1719 478A1300 1300 0 0 1 1071 688"/><path d="M1719 478A1300 1300 0 0 1 1356 1135"/><path d="M1739 1340A1300 1300 0 0 1 1366 1305"/><path d="M1478 1338A1300 1300 0 0 1 1496 1545"/><path d="M292 1223A1300 1300 0 0 1 667 1256"/><path d="M292 1223A1300 1300 0 0 1 459 1488"/><path d="M361 629A1300 1300 0 0 1 292 1223"/>
</g>
<g class="eb">
<path d="M931 955A1300 1300 0 0 1 768 1115"/><path d="M931 955A1300 1300 0 0 1 1356 1135"/><path d="M931 955A1300 1300 0 0 1 1022 901"/><path d="M931 955A1300 1300 0 0 1 1071 814"/><path d="M420 766A1300 1300 0 0 1 931 955"/><path d="M931 955A1300 1300 0 0 1 667 1256"/><path d="M931 955A1300 1300 0 0 1 807 1314"/><path d="M1059 1347A1300 1300 0 0 1 1356 1135"/><path d="M1059 1347A1300 1300 0 0 1 1366 1305"/><path d="M1059 1347A1300 1300 0 0 1 1119 1271"/><path d="M807 1314A1300 1300 0 0 1 1059 1347"/><path d="M1392 803A1300 1300 0 0 1 1071 814"/><path d="M1392 803A1300 1300 0 0 1 1356 1135"/><path d="M1392 803A1300 1300 0 0 1 1337 918"/><path d="M2313 1107A1300 1300 0 0 1 2130 992"/><path d="M2313 1107A1300 1300 0 0 1 2207 1085"/><path d="M2313 1107A1300 1300 0 0 1 1988 1100"/><path d="M2313 1107A1300 1300 0 0 1 1727 1190"/><path d="M2313 1107A1300 1300 0 0 1 2250 1199"/><path d="M1984 1184A1300 1300 0 0 1 1727 1190"/><path d="M1984 1184A1300 1300 0 0 1 2047 1273"/><path d="M1984 1184A1300 1300 0 0 1 1988 1100"/><path d="M1935 1384A1300 1300 0 0 1 1727 1190"/><path d="M1935 1384A1300 1300 0 0 1 2047 1273"/><path d="M1935 1384A1300 1300 0 0 1 1683 1482"/><path d="M2185 1286A1300 1300 0 0 1 1935 1384"/><path d="M1447 1418A1300 1300 0 0 1 1366 1305"/><path d="M1447 1418A1300 1300 0 0 1 1356 1135"/><path d="M1447 1418A1300 1300 0 0 1 1496 1545"/><path d="M1496 1545A1300 1300 0 0 1 1366 1305"/><path d="M1496 1545A1300 1300 0 0 1 1356 1135"/><path d="M1496 1545A1300 1300 0 0 1 1384 1621"/><path d="M1681 1089A1300 1300 0 0 1 1727 1190"/><path d="M1827 1118A1300 1300 0 0 1 1727 1190"/><path d="M1681 1089A1300 1300 0 0 1 1356 1135"/><path d="M564 1256A1300 1300 0 0 1 768 1115"/><path d="M564 1256A1300 1300 0 0 1 667 1256"/><path d="M292 1223A1300 1300 0 0 1 564 1256"/><path d="M711 1009A1300 1300 0 0 1 768 1115"/><path d="M711 1009A1300 1300 0 0 1 420 766"/><path d="M2146 774A1300 1300 0 0 1 2313 1107"/>
<path d="M931 955A1300 1300 0 0 1 1059 1347"/><path d="M931 955A1300 1300 0 0 1 929 1074"/><path d="M931 955A1300 1300 0 0 1 1337 918"/><path d="M361 629A1300 1300 0 0 1 931 955"/><path d="M392 476A1300 1300 0 0 1 931 955"/><path d="M311 935A1300 1300 0 0 1 931 955"/><path d="M823 567A1300 1300 0 0 1 931 955"/><path d="M564 1256A1300 1300 0 0 1 420 766"/><path d="M477 1392A1300 1300 0 0 1 564 1256"/><path d="M711 1009A1300 1300 0 0 1 1022 901"/><path d="M1392 803A1300 1300 0 0 1 1634 776"/><path d="M929 1221A1300 1300 0 0 1 1059 1347"/><path d="M1059 1347A1300 1300 0 0 1 1727 1190"/><path d="M1935 1384A1300 1300 0 0 1 1366 1305"/><path d="M2207 1085A1300 1300 0 0 1 1988 1100"/><path d="M2165 887A1300 1300 0 0 1 2207 1085"/><path d="M1984 1184A1300 1300 0 0 1 2250 1199"/>
</g>
<g class="ep">
<path d="M1727 1190A1300 1300 0 0 1 1356 1135" stroke-width="6"/><path d="M1727 1190A1300 1300 0 0 1 1366 1305"/><path d="M1727 1190A1300 1300 0 0 1 1683 1482"/><path d="M1555 1111A1300 1300 0 0 1 1727 1190"/><path d="M1727 1190A1300 1300 0 0 1 2047 1273"/><path d="M1727 1190A1300 1300 0 0 1 2185 1286"/><path d="M1727 1190A1300 1300 0 0 1 1447 1418"/><path d="M1727 1190A1300 1300 0 0 1 1496 1545"/><path d="M1727 1190A1300 1300 0 0 1 1119 1271"/><path d="M1727 1190A1300 1300 0 0 1 768 1115"/><path d="M1366 1305A1300 1300 0 0 1 1356 1135"/><path d="M1366 1305A1300 1300 0 0 1 1683 1482"/><path d="M1366 1305A1300 1300 0 0 1 1384 1621"/><path d="M1119 1271A1300 1300 0 0 1 1366 1305"/><path d="M1366 1305A1300 1300 0 0 1 1496 1545"/><path d="M1555 1111A1300 1300 0 0 1 1356 1135"/><path d="M1402 1074A1300 1300 0 0 1 1356 1135"/><path d="M1402 1074A1300 1300 0 0 1 768 1115"/><path d="M1119 1271A1300 1300 0 0 1 1356 1135"/><path d="M1119 1271A1300 1300 0 0 1 768 1115"/><path d="M807 1314A1300 1300 0 0 1 768 1115"/><path d="M807 1314A1300 1300 0 0 1 1356 1135"/><path d="M929 1221A1300 1300 0 0 1 768 1115"/><path d="M929 1221A1300 1300 0 0 1 1356 1135"/><path d="M890 1410A1300 1300 0 0 1 1059 1347"/><path d="M890 1410A1300 1300 0 0 1 1356 1135"/><path d="M890 1410A1300 1300 0 0 1 768 1115"/><path d="M890 1410A1300 1300 0 0 1 1366 1305"/><path d="M1683 1482A1300 1300 0 0 1 1496 1545"/><path d="M1683 1482A1300 1300 0 0 1 1447 1418"/><path d="M1821 1457A1300 1300 0 0 1 1683 1482"/><path d="M1821 1457A1300 1300 0 0 1 1727 1190"/><path d="M1821 1457A1300 1300 0 0 1 1366 1305"/><path d="M1384 1621A1300 1300 0 0 1 1366 1305"/><path d="M795 714A1300 1300 0 0 1 768 1115"/><path d="M795 714A1300 1300 0 0 1 1356 1135"/><path d="M420 766A1300 1300 0 0 1 795 714"/><path d="M821 881A1300 1300 0 0 1 768 1115"/><path d="M821 881A1300 1300 0 0 1 1356 1135"/><path d="M821 881A1300 1300 0 0 1 1022 901"/><path d="M2185 1286A1300 1300 0 0 1 1683 1482"/><path d="M1366 1305A1300 1300 0 0 0 402 1710"/><path d="M1366 1305A1300 1300 0 0 1 787 1603"/>
<path d="M1234 1162A1300 1300 0 0 1 1727 1190"/><path d="M1555 1111A1300 1300 0 0 1 1366 1305"/><path d="M1402 1074A1300 1300 0 0 1 1366 1305"/><path d="M807 1314A1300 1300 0 0 1 929 1221"/><path d="M807 1314A1300 1300 0 0 1 890 1410"/><path d="M890 1410A1300 1300 0 0 1 983 1497"/><path d="M1384 1621A1300 1300 0 0 0 402 1710"/><path d="M1384 1621A1300 1300 0 0 1 768 1115"/><path d="M2185 1286A1300 1300 0 0 1 1366 1305"/><path d="M2185 1286A1300 1300 0 0 1 1356 1135"/><path d="M420 766A1300 1300 0 0 1 821 881"/><path d="M821 881A1300 1300 0 0 1 1071 814"/><path d="M795 714A1300 1300 0 0 1 1022 901"/><path d="M795 714A1300 1300 0 0 1 1071 814"/>
</g>
</g>
<g id="nodes">
<g id="node-y728"><circle class="y" cx="728" cy="78" r="22"/></g>
<g id="node-y866"><circle class="y" cx="866" cy="91" r="18"/></g>
<g id="node-t977"><circle class="t" cx="977" cy="154" r="20"/></g>
<g id="node-y1032"><circle class="y" cx="1032" cy="311" r="22"/></g>
<g id="node-y890"><circle class="y" cx="890" cy="333" r="22"/></g>
<g id="node-tg540"><circle class="tg" cx="540" cy="382" r="22"/></g>
<g id="node-g564"><circle class="g" cx="564" cy="509" r="20"/></g>
<g id="node-g744"><circle class="g" cx="744" cy="485" r="20"/></g>
<g id="node-yg965"><circle class="yg" cx="965" cy="563" r="24"/></g>
<g id="node-t1240"><circle class="t" cx="1240" cy="519" r="22"/></g>
<g id="node-tg1240"><circle class="tg" cx="1240" cy="402" r="22"/></g>
<g id="node-lg1782"><circle class="lg" cx="1782" cy="391" r="22"/></g>
<g id="node-t1843"><circle class="t" cx="1843" cy="493" r="22"/></g>
<g id="node-lg514"><circle class="lg" cx="514" cy="670" r="24"/></g>
<g id="node-t619"><circle class="t" cx="619" cy="629" r="22"/></g>
<g id="node-tg1160"><circle class="tg" cx="1160" cy="616" r="22"/></g>
<g id="node-g1512"><circle class="g" cx="1512" cy="650" r="30"/></g>
<g id="node-y1882"><circle class="y" cx="1882" cy="690" r="22"/></g>
<g id="node-p795"><circle class="p" cx="795" cy="714" r="20"/></g>
<g id="node-t250"><circle class="t" cx="250" cy="785" r="20"/></g>
<g id="node-g691"><circle class="g" cx="691" cy="722" r="36"/></g>
<g id="node-tg1176"><circle class="tg" cx="1176" cy="785" r="24"/></g>
<g id="node-g1482"><circle class="g" cx="1482" cy="763" r="24"/></g>
<g id="node-g1303"><circle class="g" cx="1303" cy="776" r="22"/></g>
<g id="node-t544"><circle class="t" cx="544" cy="861" r="24"/></g>
<g id="node-t1880"><circle class="t" cx="1880" cy="855" r="28" style="fill:#2a95b0"/></g>
<g id="node-t2234"><circle class="tg" cx="2234" cy="813" r="20"/></g>
<g id="node-tg2012"><circle class="tg" cx="2012" cy="916" r="28"/></g>
<g id="node-lg669"><circle class="lg" cx="669" cy="883" r="24"/></g>
<g id="node-p821"><circle class="p" cx="821" cy="881" r="24"/></g>
<g id="node-b931"><circle class="b" cx="931" cy="955" r="46"/></g>
<g id="node-g1242"><circle class="g" cx="1242" cy="895" r="42"/></g>
<g id="node-yg1518"><circle class="lg" cx="1518" cy="879" r="20"/></g>
<g id="node-g1650"><circle class="g" cx="1650" cy="922" r="26"/></g>
<g id="node-tg1792"><circle class="tg" cx="1792" cy="924" r="22"/></g>
<g id="node-lg201"><circle class="lg" cx="201" cy="966" r="24"/></g>
<g id="node-t1176"><circle class="t" cx="1176" cy="976" r="40"/></g>
<g id="node-yg1046"><circle class="yg" cx="1046" cy="1000" r="36"/></g>
<g id="node-t2046"><circle class="t" cx="2046" cy="1013" r="20"/></g>
<g id="node-b711"><circle class="b" cx="711" cy="1009" r="20"/></g>
<g id="node-g823"><circle class="lg" cx="823" cy="1020" r="20"/></g>
<g id="node-lg1221"><circle class="lg" cx="1221" cy="1048" r="22"/></g>
<g id="node-b2207"><circle class="b" cx="2207" cy="1085" r="24"/></g>
<g id="node-t162"><circle class="t" cx="162" cy="1096" r="24"/></g>
<g id="node-g407"><circle class="g" cx="407" cy="1135" r="44"/></g>
<g id="node-g669"><circle class="g" cx="669" cy="1107" r="40"/></g>
<g id="node-t929"><circle class="t" cx="929" cy="1074" r="38"/></g>
<g id="node-p1402"><circle class="p" cx="1402" cy="1074" r="20"/></g>
<g id="node-p1555"><circle class="p" cx="1555" cy="1111" r="28"/></g>
<g id="node-b1681"><circle class="b" cx="1681" cy="1089" r="20"/></g>
<g id="node-b1827"><circle class="b" cx="1827" cy="1118" r="20"/></g>
<g id="node-t1234"><circle class="t" cx="1234" cy="1162" r="20"/></g>
<g id="node-lg1030"><circle class="lg" cx="1030" cy="1166" r="20"/></g>
<g id="node-b1984"><circle class="b" cx="1984" cy="1184" r="26"/></g>
<g id="node-g2069"><circle class="g" cx="2069" cy="1188" r="24"/></g>
<g id="node-g479"><circle class="g" cx="479" cy="1184" r="24"/></g>
<g id="node-b564"><circle class="b" cx="564" cy="1256" r="22"/></g>
<g id="node-g1817"><circle class="g" cx="1817" cy="1260" r="22"/></g>
<g id="node-p2185"><circle class="p" cx="2185" cy="1286" r="20"/></g>
<g id="node-t925"><circle class="t" cx="925" cy="1331" r="28"/></g>
<g id="node-t1478"><circle class="t" cx="1478" cy="1338" r="30"/></g>
<g id="node-t1739"><circle class="t" cx="1739" cy="1340" r="22"/></g>
<g id="node-p890"><circle class="p" cx="890" cy="1410" r="20"/></g>
<g id="node-g1146"><circle class="g" cx="1146" cy="1399" r="22"/></g>
<g id="node-g1317"><circle class="g" cx="1317" cy="1451" r="22"/></g>
<g id="node-p1821"><circle class="p" cx="1821" cy="1457" r="20"/></g>
<g id="node-yg213"><circle class="yg" cx="213" cy="1447" r="26"/></g>
<g id="node-g323"><circle class="g" cx="323" cy="1460" r="22"/></g>
<g id="node-t983"><circle class="t" cx="983" cy="1497" r="22"/></g>
<g id="node-yg290"><circle class="lg" cx="290" cy="1571" r="24"/></g>
<g id="node-g380"><circle class="g" cx="380" cy="1607" r="22"/></g>

<g id="node-computer-simulation"><circle class="p" cx="1727" cy="1190" r="50"/><text class="f4" x="1727" y="1207" font-size="56">computer simulation</text></g>
<g id="node-building-materials"><circle class="t" cx="1632" cy="1273" r="24"/><text class="f4" x="1632" y="1286" font-size="43">building materials</text></g>
<g id="node-humans"><circle class="g" cx="579" cy="1507" r="24"/><text class="f4" x="579" y="1520" font-size="43">humans</text></g>
<g id="node-risk-assessment"><circle class="t" cx="1356" cy="1135" r="72"/><text class="d1" x="1359" y="1158" font-size="66">risk assessment</text></g>
<g id="node-construction-industry"><circle class="t" cx="768" cy="1115" r="64"/><text class="d1" x="768" y="1142" font-size="66">construction industry</text></g>
<g id="node-occupational-risks"><circle class="g" cx="420" cy="766" r="55"/><text class="d1" x="417" y="781" font-size="59">occupational risks</text></g>
<g id="node-hazards"><circle class="g" cx="1022" cy="901" r="48"/><text class="d1" x="1022" y="919" font-size="58">hazards</text></g>
<g id="node-risk-management"><circle class="t" cx="1337" cy="918" r="48"/><text class="d1" x="1341" y="937" font-size="54">risk management</text></g>
<g id="node-machine-learning"><circle class="y" cx="1071" cy="688" r="42" style="fill:#dcdc28"/><text class="d1" x="1070" y="700" font-size="53">machine learning</text></g>
<g id="node-construction-equipment"><circle class="tg" cx="1239" cy="275" r="40"/><text class="d1" x="1230" y="293" font-size="53">construction equipment</text></g>
<g id="node-robotics"><circle class="lg" cx="640" cy="369" r="38"/><text class="d1" x="644" y="381" font-size="51">robotics</text></g>
<g id="node-forecasting"><circle class="lg" cx="1370" cy="666" r="38"/><text class="f3" x="1368" y="677" font-size="51">forecasting</text></g>
<g id="node-decision-making"><circle class="t" cx="1071" cy="814" r="36"/><text class="d1" x="1072" y="829" font-size="52">decision making</text></g>
<g id="node-construction"><circle class="tg" cx="618" cy="970" r="36"/><text class="d1" x="622" y="990" font-size="47">construction</text></g>
<g id="node-earthquakes"><circle class="t" cx="2130" cy="992" r="34"/><text class="d1" x="2130" y="1004" font-size="46">earthquakes</text></g>
<g id="node-virtual-reality"><circle class="lg" cx="311" cy="935" r="32"/><text class="d1" x="310" y="949" font-size="46">virtual reality</text></g>
<g id="node-civil-engineering"><circle class="p" cx="1366" cy="1305" r="32"/><text class="d1" x="1366" y="1321" font-size="46">civil engineering</text></g>
<g id="node-safety"><circle class="g" cx="667" cy="1256" r="32"/><text class="d1" x="669" y="1274" font-size="47">safety</text></g>
<g id="node-construction-sites"><circle class="g" cx="361" cy="629" r="30"/><text class="d1" x="363" y="640" font-size="47">construction sites</text></g>
<g id="node-monitoring"><circle class="t" cx="1735" cy="607" r="30"/><text class="d1" x="1737" y="620" font-size="51">monitoring</text></g>
<g id="node-support-vector-machines"><circle class="lg" cx="1419" cy="522" r="30"/><text class="d1" x="1418" y="539" font-size="46">support vector machines</text></g>
<g id="node-damage-detection"><circle class="tg" cx="2069" cy="824" r="30"/><text class="d3" x="2071" y="840" font-size="46">damage detection</text></g>
<g id="node-seismology"><circle class="t" cx="2165" cy="887" r="30"/><text class="d1" x="2167" y="903" font-size="47">seismology</text></g>
<g id="node-agricultural-robots"><circle class="y" cx="412" cy="322" r="28"/><text class="f4" x="412" y="335" font-size="43">agricultural robots</text></g>
<g id="node-learning-systems"><circle class="yg" cx="965" cy="748" r="28"/><text class="f3" x="966" y="761" font-size="46">learning systems</text></g>
<g id="node-bayesian-networks"><circle class="t" cx="1419" cy="976" r="28"/><text class="f4" x="1421" y="990" font-size="43">bayesian networks</text></g>
<g id="node-health-risks"><circle class="t" cx="1059" cy="1347" r="28" style="fill:#2a92ae"/><text class="d1" x="1058" y="1359" font-size="46">health risks</text></g>
<g id="node-human"><circle class="g" cx="459" cy="1488" r="28"/><text class="d1" x="459" y="1497" font-size="46">human</text></g>
<g id="node-tunnels"><circle class="t" cx="1719" cy="478" r="26"/><text class="f1" x="1718" y="489" font-size="42">tunnels</text></g>
<g id="node-construction-workers"><circle class="g" cx="392" cy="476" r="26"/><text class="d1" x="390" y="490" font-size="47">construction workers</text></g>
<g id="node-structural-analysis"><circle class="g" cx="1988" cy="1100" r="26"/><text class="d1" x="1990" y="1118" font-size="46">structural analysis</text></g>
<g id="node-seismic-design"><circle class="b" cx="2313" cy="1107" r="26"/><text class="d2" x="2321" y="1121" font-size="42">seismic design</text></g>
<g id="node-probability"><circle class="b" cx="1496" cy="1545" r="26"/><text class="d2" x="1497" y="1558" font-size="43">probability</text></g>
<g id="node-boring-machines"><circle class="lg" cx="1711" cy="277" r="24"/><text class="f4" x="1714" y="290" font-size="43">boring machines (machine tools</text></g>
<g id="node-tunnel-construction"><circle class="g" cx="1646" cy="330" r="24"/><text class="f4" x="1644" y="341" font-size="43">tunnel construction</text></g>
<g id="node-tunneling-excavation"><circle class="g" cx="1956" cy="534" r="24"/><text class="f2" x="1956" y="546" font-size="43">tunneling (excavation)</text></g>
<g id="node-learning-algorithms"><circle class="yg" cx="823" cy="567" r="24"/><text class="d1" x="824" y="583" font-size="46">learning algorithms</text></g>
<g id="node-life-cycle"><circle class="t" cx="1634" cy="776" r="24"/><text class="d1" x="1633" y="785" font-size="44">life cycle</text></g>
<g id="node-buildings"><circle class="tg" cx="1853" cy="1003" r="24"/><text class="d1" x="1853" y="1016" font-size="42">buildings</text></g>
<g id="node-human-resource-management"><circle class="g" cx="319" cy="1037" r="24"/><text class="d2" x="321" y="1049" font-size="44">human resource management</text></g>
<g id="node-risks"><circle class="p" cx="1119" cy="1271" r="24"/><text class="d2" x="1123" y="1284" font-size="43">risks</text></g>
<g id="node-structural-design"><circle class="b" cx="1935" cy="1384" r="24"/><text class="d2" x="1936" y="1399" font-size="43">structural design</text></g>
<g id="node-monte-carlo-methods"><circle class="b" cx="1447" cy="1418" r="24"/><text class="d2" x="1445" y="1429" font-size="43">monte carlo methods</text></g>
<g id="node-risk-factors"><circle class="t" cx="787" cy="1494" r="24"/><text class="d1" x="789" y="1503" font-size="43">risk factors</text></g>
<g id="node-article"><circle class="g" cx="514" cy="1644" r="24"/><text class="d1" x="514" y="1656" font-size="44">article</text></g>
<g id="node-industrial-robots"><circle class="y" cx="540" cy="176" r="22"/><text class="f2" x="540" y="188" font-size="43">industrial robots</text></g>
<g id="node-security-systems"><circle class="t" cx="820" cy="196" r="22"/><text class="f2" x="820" y="207" font-size="43">security systems</text></g>
<g id="node-location"><circle class="tg" cx="697" cy="270" r="22"/><text class="d2" x="697" y="281" font-size="43">location</text></g>
<g id="node-excavation"><circle class="g" cx="1405" cy="222" r="22"/><text class="f4" x="1405" y="235" font-size="43">excavation</text></g>
<g id="node-numerical-simulation"><circle class="g" cx="1949" cy="376" r="22"/><text class="d1" x="1948" y="389" font-size="40">numerical simulation</text></g>
<g id="node-decision-trees"><circle class="yg" cx="1061" cy="435" r="22"/><text class="d2" x="1061" y="447" font-size="43">decision trees</text></g>
<g id="node-building-information-modelling"><circle class="y" cx="1340" cy="572" r="22"/><text class="f4" x="1342" y="590" font-size="43">building information modelling</text></g>
<g id="node-numerical-models"><circle class="g" cx="2000" cy="640" r="22"/><text class="f2" x="2002" y="650" font-size="43">numerical models</text></g>
<g id="node-complex-networks"><circle class="t" cx="1748" cy="692" r="22"/><text class="f4" x="1750" y="702" font-size="42">complex networks</text></g>
<g id="node-visualization"><circle class="b" cx="1392" cy="803" r="22"/><text class="d2" x="1393" y="815" font-size="43">visualization</text></g>
<g id="node-soils"><circle class="b" cx="2146" cy="774" r="22"/><text class="f4" x="2146" y="785" font-size="44">soils</text></g>
<g id="node-building"><circle class="g" cx="2272" cy="942" r="22"/><text class="f4" x="2273" y="956" font-size="42">building</text></g>
<g id="node-finite-element-method"><circle class="t" cx="2047" cy="1273" r="22"/><text class="d1" x="2047" y="1284" font-size="43">finite element method</text></g>
<g id="node-risk"><circle class="p" cx="807" cy="1314" r="22"/><text class="d2" x="807" y="1325" font-size="43">risk</text></g>
<g id="node-ergonomics"><circle class="g" cx="477" cy="1392" r="22"/><text class="d2" x="481" y="1402" font-size="43">ergonomics</text></g>
<g id="node-mathematical-models"><circle class="p" cx="1683" cy="1482" r="22"/><text class="f1" x="1682" y="1492" font-size="43">mathematical models</text></g>
<g id="node-computer-aided-design"><circle class="t" cx="787" cy="1603" r="22"/><text class="f1" x="789" y="1616" font-size="43">computer aided design</text></g>
<g id="node-construction-work"><circle class="t" cx="402" cy="1710" r="22"/><text class="d2" x="403" y="1722" font-size="40">construction work</text></g>
<g id="node-deep-learning"><circle class="y" cx="640" cy="118" r="20"/><text class="d2" x="637" y="130" font-size="43">deep learning</text></g>
<g id="node-semantics"><circle class="yg" cx="1163" cy="176" r="20"/><text class="d2" x="1163" y="187" font-size="40">semantics</text></g>
<g id="node-design-methodology-approach"><circle class="t" cx="900" cy="482" r="20"/><text class="f4" x="900" y="493" font-size="40">design/methodology/approach</text></g>
<g id="node-concretes"><circle class="t" cx="2250" cy="1199" r="20"/><text class="d2" x="2250" y="1213" font-size="40">concretes</text></g>
<g id="node-students"><circle class="t" cx="292" cy="1223" r="20"/><text class="d1" x="291" y="1235" font-size="42">students</text></g>
<g id="node-information-technology"><circle class="p" cx="929" cy="1221" r="20"/><text class="f4" x="928" y="1234" font-size="40">information technology</text></g>
<g id="node-disasters"><circle class="lg" cx="1089" cy="1597" r="20"/><text class="d2" x="1090" y="1609" font-size="39">disasters</text></g>
<g id="node-technology"><circle class="p" cx="1384" cy="1621" r="20"/><text class="d2" x="1385" y="1631" font-size="41">technology</text></g>
<g id="node-neural-networks"><circle class="yg" cx="1112" cy="103" r="18"/><text class="d2" x="1112" y="116" font-size="42">neural networks</text></g>
<g id="node-data-handling"><circle class="yg" cx="1152" cy="350" r="18"/><text class="d2" x="1152" y="358" font-size="43">data handling</text></g>
<g id="node-object-detection"><circle class="y" cx="963" cy="35" r="14"/><text class="d2" x="963" y="47" font-size="40">object detection</text></g>
</g>
</svg>
